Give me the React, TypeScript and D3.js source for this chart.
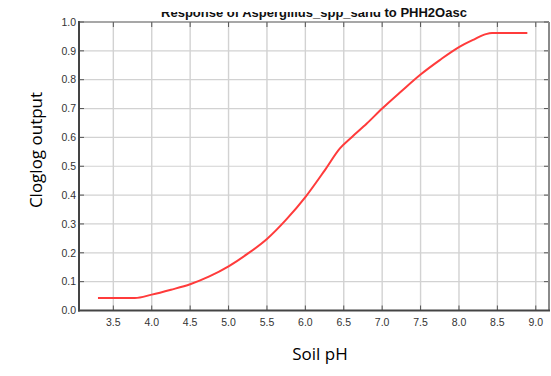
import React from "react";
import * as d3 from "d3";

// Response curve: soil pH vs cloglog output
const phValues = [3.3, 3.78, 4.0, 4.25, 4.5, 4.75, 5.0, 5.25, 5.5, 5.75, 6.0, 6.25, 6.45, 6.6, 6.8, 7.0, 7.25, 7.5, 7.75, 8.0, 8.2, 8.35, 8.43, 8.89];
const cloglogValues = [0.043, 0.043, 0.055, 0.072, 0.091, 0.118, 0.153, 0.197, 0.248, 0.315, 0.393, 0.485, 0.562, 0.6, 0.648, 0.7, 0.76, 0.818, 0.868, 0.913, 0.94, 0.958, 0.962, 0.962];

const xTicks = [3.5, 4.0, 4.5, 5.0, 5.5, 6.0, 6.5, 7.0, 7.5, 8.0, 8.5, 9.0];
const yTicks = [0.0, 0.1, 0.2, 0.3, 0.4, 0.5, 0.6, 0.7, 0.8, 0.9, 1.0];

const titleText = "Response of Aspergillus_spp_sand to PHH2Oasc";
const xLabel = "Soil pH";
const yLabel = "Cloglog output";

const W = 551;
const H = 376;
const left = 79;
const right = 549;
const top = 22;
const bottom = 310.5;

export default function App() {
  const x = d3.scaleLinear().domain([3.053, 9.172]).range([left, right]);
  const y = d3.scaleLinear().domain([0, 1]).range([bottom, top]);

  const points = phValues.map((p, i) => [p, cloglogValues[i]] as [number, number]);
  const line = d3
    .line<[number, number]>()
    .x((d) => x(d[0]))
    .y((d) => y(d[1]))
    .curve(d3.curveMonotoneX);

  const font = "'Liberation Sans', Arial, sans-serif";
  const tickLen = 5;

  return (
    <svg
      width={W}
      height={H}
      style={{ position: "absolute", left: 0, top: 0, background: "#fff" }}
    >
      <rect x={0} y={0} width={W} height={H} fill="#fff" />

      {/* title; the upper part of its first half is hidden behind a white band */}
      <text
        x={314}
        y={16.5}
        textAnchor="middle"
        fontFamily={font}
        fontWeight="bold"
        fontSize={13}
        fill="#111"
      >
        {titleText}
      </text>
      <rect x={155} y={0} width={228} height={12} fill="#fff" />

      {/* grid */}
      {yTicks.map((t) => (
        <line key={"gy" + t} x1={left} x2={right} y1={y(t)} y2={y(t)} stroke="#d2d2d2" strokeWidth={1.2} />
      ))}
      {xTicks.map((t) => (
        <line key={"gx" + t} x1={x(t)} x2={x(t)} y1={top} y2={bottom} stroke="#d2d2d2" strokeWidth={1.4} />
      ))}

      {/* inward ticks on all four sides */}
      {yTicks.map((t) => (
        <g key={"ty" + t}>
          <line x1={left} x2={left + tickLen} y1={y(t)} y2={y(t)} stroke="#555" strokeWidth={1} />
          <line x1={right - tickLen} x2={right} y1={y(t)} y2={y(t)} stroke="#555" strokeWidth={1} />
        </g>
      ))}
      {xTicks.map((t) => (
        <g key={"tx" + t}>
          <line x1={x(t)} x2={x(t)} y1={bottom - tickLen} y2={bottom} stroke="#555" strokeWidth={1} />
          <line x1={x(t)} x2={x(t)} y1={top} y2={top + tickLen} stroke="#555" strokeWidth={1} />
        </g>
      ))}

      {/* frame */}
      <line x1={left} x2={right} y1={top} y2={top} stroke="#666" strokeWidth={1} />
      <line x1={right} x2={right} y1={top} y2={bottom} stroke="#8a8a8a" strokeWidth={2} />
      <line x1={left} x2={left} y1={top - 1} y2={bottom + 1} stroke="#444" strokeWidth={2} />
      <line x1={left - 1} x2={right + 1} y1={bottom} y2={bottom} stroke="#444" strokeWidth={2} />

      {/* tick labels */}
      {yTicks.map((t) => (
        <text
          key={"ly" + t}
          x={left - 3}
          y={y(t)}
          dy="0.36em"
          textAnchor="end"
          fontFamily={font}
          fontSize={10.5}
          fill="#333"
        >
          {t.toFixed(1)}
        </text>
      ))}
      {xTicks.map((t) => (
        <text
          key={"lx" + t}
          x={x(t)}
          y={bottom + 15.5}
          textAnchor="middle"
          fontFamily={font}
          fontSize={10.5}
          fill="#333"
        >
          {t.toFixed(1)}
        </text>
      ))}

      {/* response curve */}
      <path d={line(points) ?? ""} fill="none" stroke="#ff3b3b" strokeWidth={2} strokeLinejoin="round" />

      {/* axis titles */}
      <text
        x={320}
        y={360}
        textAnchor="middle"
        fontFamily="'Open Sans', sans-serif"
        fontSize={17}
        fill="#000"
      >
        {xLabel}
      </text>
      <text
        transform="translate(42,150) rotate(-90)"
        textAnchor="middle"
        fontFamily="'Open Sans', sans-serif"
        fontSize={17}
        fill="#000"
      >
        {yLabel}
      </text>
    </svg>
  );
}
